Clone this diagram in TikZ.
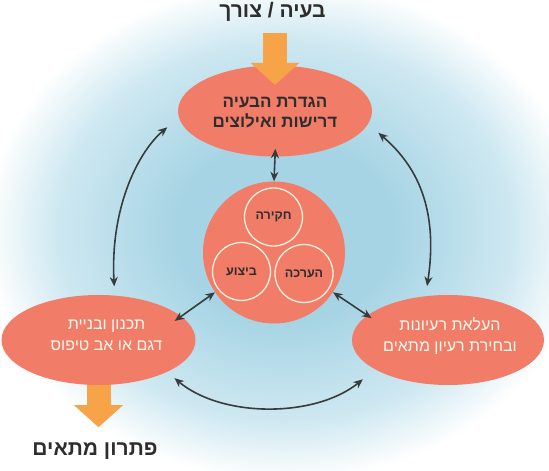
\documentclass[tikz,border=0pt]{standalone}
\usepackage{fontspec}
\setmainfont{Liberation Sans}
\newfontfamily\heb[Script=Hebrew]{Liberation Sans}
\TeXXeTstate=1
\usetikzlibrary{arrows.meta,shapes.geometric,calc}
\definecolor{ovalc}{RGB}{241,124,104}
\definecolor{rimc}{RGB}{255,242,225}
\definecolor{orangec}{RGB}{247,163,72}
\definecolor{arrc}{RGB}{55,60,60}
\definecolor{darkc}{RGB}{45,45,45}
\definecolor{lightc}{RGB}{255,250,240}
\definecolor{glowc}{RGB}{166,212,228}
\definecolor{glowm}{RGB}{206,232,241}
\pgfdeclareradialshading{glow}{\pgfpoint{0bp}{0bp}}{color(0bp)=(glowc); color(9bp)=(glowc); color(19bp)=(glowm); color(25bp)=(white); color(50bp)=(white)}
\pgfdeclarelayer{background}
\pgfsetlayers{background,main}
\begin{document}
\begin{tikzpicture}[x=1pt,y=1pt,
  oval/.style={ellipse, fill=ovalc, draw=none, minimum width=194pt, minimum height=91pt, inner sep=0pt},
  hub/.style={circle, fill=ovalc, draw=none, minimum size=142pt, inner sep=0pt},
  small/.style={circle, draw=rimc, line width=1.3pt, minimum size=58pt, inner sep=0pt,
    font=\heb\bfseries\fontsize{12.5}{14}\selectfont, text=darkc},
  toptext/.style={align=center, inner sep=0pt, text=darkc,
    font=\heb\bfseries\fontsize{17}{20}\selectfont},
  sidetext/.style={align=center, inner sep=0pt, text=lightc,
    font=\heb\fontsize{16}{21}\selectfont},
  title/.style={inner sep=0pt, text=darkc, font=\heb\bfseries\fontsize{21}{24}\selectfont},
  bigarrow/.style={draw=orangec, line width=24pt, -{Triangle[length=22pt,width=49pt,line width=0pt]}},
  dbl/.style={draw=arrc, line width=1.6pt, {Stealth[length=9.5pt,width=8pt]}-{Stealth[length=9.5pt,width=8pt]}}
]
\useasboundingbox (0,0) rectangle (549,471);
\begin{pgfonlayer}{background}
\fill[white] (0,0) rectangle (549,471);
\begin{scope}
\clip (0,0) rectangle (549,471);
\shade[shading=glow] (285,240) ellipse (300 and 250);
\end{scope}
\end{pgfonlayer}

% titles
\node[title] (need) at (272.5,459) {\beginR בעיה / צורך\endR};
\node[title] (result) at (95,20) {\beginR פתרון מתאים\endR};

% main shapes
\node[oval] (top) at (275,360) {};
\node[oval, minimum height=90pt] (left) at (98.5,131) {};
\node[oval, minimum width=192pt, minimum height=90pt] (right) at (448,131) {};
\node[hub] (mid) at (274,218.5) {};
\node[small] (c1) at (273.5,254) {\beginR חקירה\endR};
\node[small] (c2) at (241.5,199.5) {\beginR ביצוע\endR};
\node[small] (c3) at (304,197.5) {\beginR הערכה\endR};

% texts
\node[toptext] (topt) at (275,358.5) {\beginR הגדרת הבעיה\endR\\\beginR דרישות ואילוצים\endR};
\node[sidetext] (leftt) at (106.5,135.5) {\beginR תכנון ובניית\endR\\\beginR דגם או אב טיפוס\endR};
\node[sidetext] (rightt) at (450,134.5) {\beginR העלאת רעיונות\endR\\\beginR ובחירת רעיון מתאים\endR};

% orange arrows
\draw[bigarrow] ([yshift=32.5pt]top.north) -- ([yshift=-19.5pt]top.north);
\begin{pgfonlayer}{background}
\draw[bigarrow] ([yshift=10pt]left.south) -- ([yshift=-42pt]left.south);
\end{pgfonlayer}

% connectors
\draw[dbl, shorten <=-8pt] (top.south) -- (mid.north);
\draw[dbl, shorten >=-8pt] (mid.214) -- (left.16);
\draw[dbl, shorten >=-5pt] (mid.326) -- (right.163);
\draw[dbl, shorten <=9pt, shorten >=15pt] (left.70) .. controls (110,266) and (140,321) .. (top.184);
\draw[dbl, shorten <=13.5pt, shorten >=10pt] (top.352) .. controls (410,311) and (440,271) .. (right.117);
\draw[dbl, shorten <=9.5pt, shorten >=15.7pt] (left.335) .. controls (222,53) and (315,53) .. (right.202);
\end{tikzpicture}
\end{document}
